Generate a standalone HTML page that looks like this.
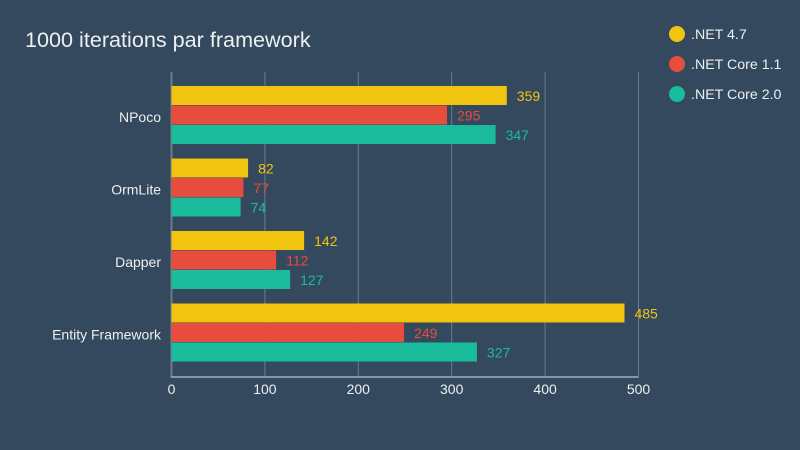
<!DOCTYPE html>
<html><head><meta charset="utf-8"><style>
html,body{margin:0;padding:0;background:#34495e;}
svg{display:block;font-family:"Liberation Sans",sans-serif;}
</style></head><body>
<svg id="chart" width="800" height="450">
<rect width="800" height="450" fill="#34495e"/>
<text x="25" y="47" font-size="21.6" fill="#ecf0f1">1000 iterations par framework</text>
<g id="legend"></g>
<g id="grid"></g><g id="bars"></g><g id="labels"></g>
</svg>
<script>
const categories=["NPoco","OrmLite","Dapper","Entity Framework"];
const seriesNames=[".NET 4.7",".NET Core 1.1",".NET Core 2.0"];
const net47=[359,82,142,485];
const core11=[295,77,112,249];
const core20=[347,74,127,327];
const ticks=[0,100,200,300,400,500];
const colors=["#f1c40f","#e74c3c","#1abc9c"];
const series=[net47,core11,core20];
const NS="http://www.w3.org/2000/svg";
const x0=171.5,x1=638.5,y0=72,y1=377,xmax=500;
const xs=v=>x0+(x1-x0)*v/xmax;
const band=72.5,firstCenter=117;
function mk(tag,attrs,parent,text){const e=document.createElementNS(NS,tag);for(const k in attrs)e.setAttribute(k,attrs[k]);if(text!==undefined)e.textContent=text;document.getElementById(parent).appendChild(e);return e;}
ticks.forEach(t=>{
 const l=mk("line",{x1:xs(t),x2:xs(t),y1:y0,y2:y1,stroke:"#6c7a89","stroke-width":t===0?2:1},"grid");
 
 
 const tx=mk("text",{x:xs(t),y:y1+17,"text-anchor":"middle","font-size":14,fill:"#ecf0f1"},"grid",String(t));
 
 
});
const ax=mk("line",{x1:x0-1,x2:x1,y1:y1,y2:y1,stroke:"#8795a3","stroke-width":2},"grid");


const bh=19.5;
categories.forEach((c,i)=>{
 const cy=firstCenter+band*i;
 const cl=mk("text",{x:161,y:cy+5,"text-anchor":"end","font-size":14,fill:"#ecf0f1"},"labels",c);
 
 
 series.forEach((s,j)=>{
  const y=cy-31+bh*j;
  const r=mk("rect",{x:x0,y:y,width:xs(s[i])-x0,height:bh-0.5,fill:colors[j]},"bars");
  
  
  const v=mk("text",{x:xs(s[i])+10,y:y+bh/2+5,"font-size":14,fill:colors[j]},"labels",String(s[i]));
  
  
 });
});
seriesNames.forEach((n,j)=>{
 const cy=34+30*j;
 const c=mk("circle",{cx:677,cy:cy,r:8,fill:colors[j]},"legend");
 
 
 const t=mk("text",{x:691,y:cy+5,"font-size":14.2,fill:"#ecf0f1"},"legend",n);
 
 
});
</script>
</body></html>
